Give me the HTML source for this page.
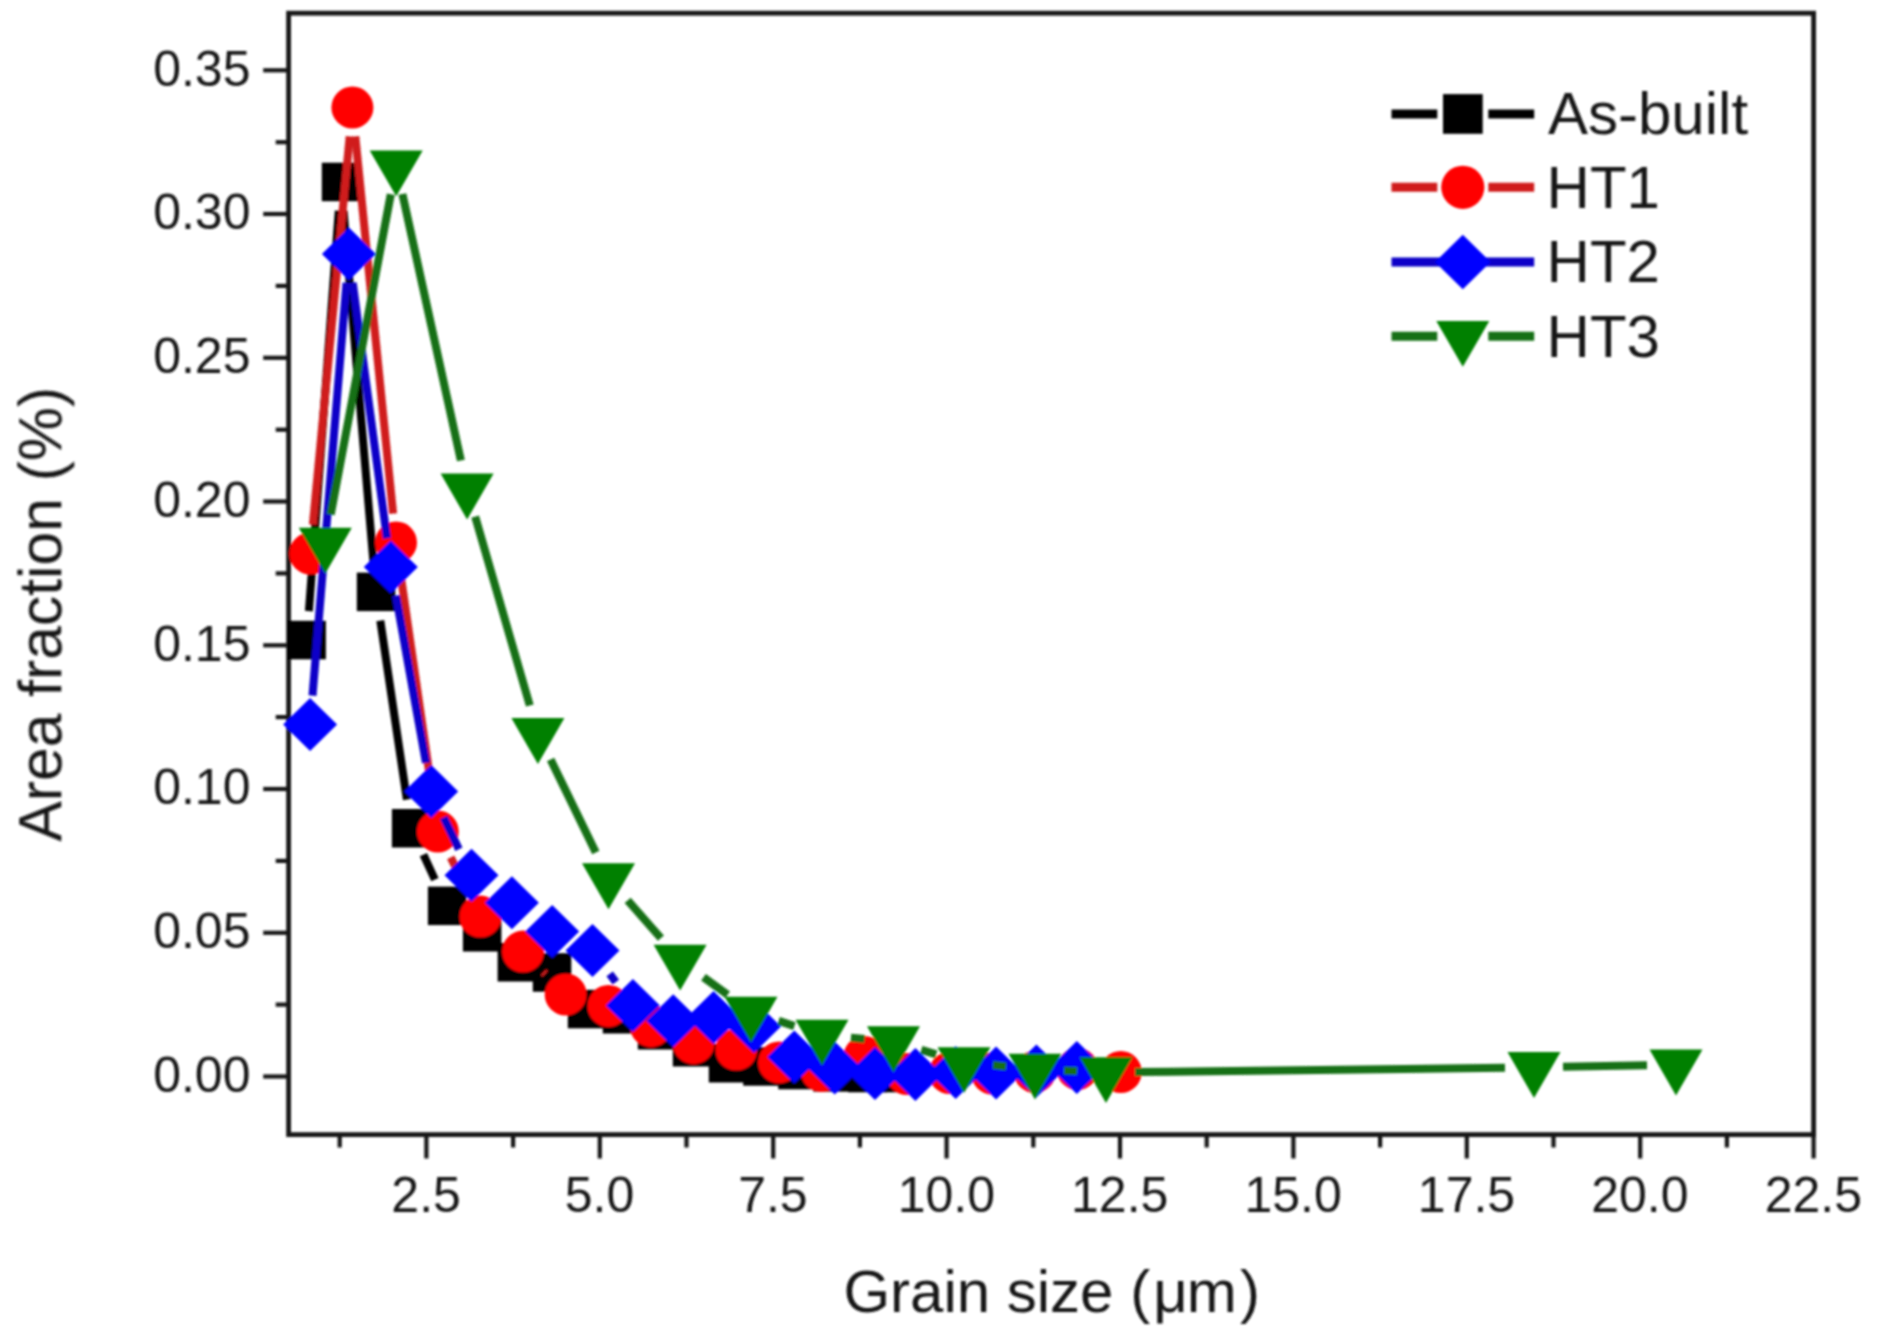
<!DOCTYPE html>
<html lang="en"><head><meta charset="utf-8"><title>Grain size distribution</title>
<style>
html,body{margin:0;padding:0;background:#fff;}
body{width:1877px;height:1341px;overflow:hidden;}
svg{display:block;}
</style></head><body>
<svg width="1877" height="1341" viewBox="0 0 1877 1341">
<rect width="1877" height="1341" fill="#ffffff"/>
<defs><filter id="soft" x="0" y="0" width="1877" height="1341" filterUnits="userSpaceOnUse"><feGaussianBlur stdDeviation="1.0"/></filter></defs>
<g filter="url(#soft)">
<rect x="288.6" y="13.2" width="1525.0" height="1121.3999999999999" fill="none" stroke="#161616" stroke-width="4.8"/>
<g stroke="#161616" stroke-width="4.2"><line x1="263.2" y1="1076.5" x2="288.6" y2="1076.5"/><line x1="263.2" y1="932.8" x2="288.6" y2="932.8"/><line x1="263.2" y1="789.0" x2="288.6" y2="789.0"/><line x1="263.2" y1="645.3" x2="288.6" y2="645.3"/><line x1="263.2" y1="501.5" x2="288.6" y2="501.5"/><line x1="263.2" y1="357.8" x2="288.6" y2="357.8"/><line x1="263.2" y1="214.0" x2="288.6" y2="214.0"/><line x1="263.2" y1="70.3" x2="288.6" y2="70.3"/><line x1="275.7" y1="1004.6" x2="288.6" y2="1004.6"/><line x1="275.7" y1="860.9" x2="288.6" y2="860.9"/><line x1="275.7" y1="717.1" x2="288.6" y2="717.1"/><line x1="275.7" y1="573.4" x2="288.6" y2="573.4"/><line x1="275.7" y1="429.7" x2="288.6" y2="429.7"/><line x1="275.7" y1="285.9" x2="288.6" y2="285.9"/><line x1="275.7" y1="142.2" x2="288.6" y2="142.2"/><line x1="426.4" y1="1134.6" x2="426.4" y2="1158.5"/><line x1="599.8" y1="1134.6" x2="599.8" y2="1158.5"/><line x1="773.2" y1="1134.6" x2="773.2" y2="1158.5"/><line x1="946.6" y1="1134.6" x2="946.6" y2="1158.5"/><line x1="1120.0" y1="1134.6" x2="1120.0" y2="1158.5"/><line x1="1293.4" y1="1134.6" x2="1293.4" y2="1158.5"/><line x1="1466.8" y1="1134.6" x2="1466.8" y2="1158.5"/><line x1="1640.2" y1="1134.6" x2="1640.2" y2="1158.5"/><line x1="1813.6" y1="1134.6" x2="1813.6" y2="1158.5"/><line x1="339.7" y1="1134.6" x2="339.7" y2="1147.5"/><line x1="513.1" y1="1134.6" x2="513.1" y2="1147.5"/><line x1="686.5" y1="1134.6" x2="686.5" y2="1147.5"/><line x1="859.9" y1="1134.6" x2="859.9" y2="1147.5"/><line x1="1033.3" y1="1134.6" x2="1033.3" y2="1147.5"/><line x1="1206.7" y1="1134.6" x2="1206.7" y2="1147.5"/><line x1="1380.1" y1="1134.6" x2="1380.1" y2="1147.5"/><line x1="1553.5" y1="1134.6" x2="1553.5" y2="1147.5"/><line x1="1726.9" y1="1134.6" x2="1726.9" y2="1147.5"/></g>
<g id="plot">
<g stroke="#000000" stroke-width="8.0" fill="none"><line x1="308.9" y1="611.1" x2="338.8" y2="210.8"/><line x1="343.5" y1="210.8" x2="373.5" y2="563.0"/><line x1="380.3" y1="620.6" x2="406.9" y2="799.6"/><line x1="423.4" y1="854.6" x2="434.9" y2="879.6"/></g>
<g><rect x="287.4" y="620.8" width="38.5" height="38.5" fill="#000000"/><rect x="321.8" y="162.7" width="38.5" height="38.5" fill="#000000"/><rect x="356.8" y="572.6" width="38.5" height="38.5" fill="#000000"/><rect x="391.9" y="809.0" width="38.5" height="38.5" fill="#000000"/><rect x="427.9" y="886.6" width="38.5" height="38.5" fill="#000000"/><rect x="462.9" y="913.0" width="38.5" height="38.5" fill="#000000"/><rect x="497.6" y="943.0" width="38.5" height="38.5" fill="#000000"/><rect x="532.8" y="953.2" width="38.5" height="38.5" fill="#000000"/><rect x="567.8" y="989.8" width="38.5" height="38.5" fill="#000000"/><rect x="602.8" y="995.0" width="38.5" height="38.5" fill="#000000"/><rect x="637.8" y="1011.0" width="38.5" height="38.5" fill="#000000"/><rect x="672.8" y="1028.0" width="38.5" height="38.5" fill="#000000"/><rect x="708.8" y="1044.0" width="38.5" height="38.5" fill="#000000"/><rect x="743.2" y="1047.2" width="38.5" height="38.5" fill="#000000"/><rect x="778.2" y="1050.8" width="38.5" height="38.5" fill="#000000"/><rect x="813.2" y="1053.2" width="38.5" height="38.5" fill="#000000"/><rect x="848.2" y="1053.8" width="38.5" height="38.5" fill="#000000"/><rect x="883.4" y="1053.8" width="38.5" height="38.5" fill="#000000"/></g>
<g stroke="#d01c1c" stroke-width="8.0" fill="none"><line x1="312.9" y1="524.6" x2="349.7" y2="136.4"/><line x1="355.3" y1="136.4" x2="393.1" y2="513.6"/><line x1="400.1" y1="571.2" x2="433.6" y2="802.8"/><line x1="450.7" y1="857.4" x2="467.4" y2="890.7"/><line x1="543.5" y1="972.2" x2="545.3" y2="973.9"/></g>
<g><circle cx="310.2" cy="553.5" r="21.0" fill="#ff0000"/><circle cx="352.4" cy="107.5" r="21.0" fill="#ff0000"/><circle cx="396.0" cy="542.5" r="21.0" fill="#ff0000"/><circle cx="437.8" cy="831.5" r="21.0" fill="#ff0000"/><circle cx="480.4" cy="916.6" r="21.0" fill="#ff0000"/><circle cx="523.0" cy="951.6" r="21.0" fill="#ff0000"/><circle cx="565.7" cy="994.5" r="21.0" fill="#ff0000"/><circle cx="608.4" cy="1006.0" r="21.0" fill="#ff0000"/><circle cx="651.0" cy="1026.2" r="21.0" fill="#ff0000"/><circle cx="693.6" cy="1043.2" r="21.0" fill="#ff0000"/><circle cx="736.3" cy="1049.6" r="21.0" fill="#ff0000"/><circle cx="779.0" cy="1062.4" r="21.0" fill="#ff0000"/><circle cx="821.6" cy="1070.9" r="21.0" fill="#ff0000"/><circle cx="864.2" cy="1057.0" r="21.0" fill="#ff0000"/><circle cx="906.9" cy="1074.0" r="21.0" fill="#ff0000"/><circle cx="949.5" cy="1073.0" r="21.0" fill="#ff0000"/><circle cx="992.2" cy="1073.5" r="21.0" fill="#ff0000"/><circle cx="1034.8" cy="1072.0" r="21.0" fill="#ff0000"/><circle cx="1077.5" cy="1069.0" r="21.0" fill="#ff0000"/><circle cx="1120.8" cy="1072.0" r="21.0" fill="#ff0000"/></g>
<g stroke="#0a00c8" stroke-width="8.0" fill="none"><line x1="312.5" y1="695.7" x2="346.5" y2="282.9"/><line x1="352.7" y1="282.7" x2="387.0" y2="538.4"/><line x1="395.9" y1="595.6" x2="426.0" y2="762.9"/><line x1="443.7" y1="817.5" x2="458.9" y2="849.2"/><line x1="609.7" y1="973.8" x2="615.8" y2="982.1"/></g>
<g><polygon points="283.1,724.6 310.1,698.1 337.1,724.6 310.1,751.1" fill="#0000ff"/><polygon points="321.9,254.0 348.9,227.5 375.9,254.0 348.9,280.5" fill="#0000ff"/><polygon points="363.8,567.1 390.8,540.6 417.8,567.1 390.8,593.6" fill="#0000ff"/><polygon points="404.2,791.4 431.2,764.9 458.2,791.4 431.2,817.9" fill="#0000ff"/><polygon points="444.5,875.3 471.5,848.8 498.5,875.3 471.5,901.8" fill="#0000ff"/><polygon points="484.9,902.8 511.9,876.3 538.9,902.8 511.9,929.3" fill="#0000ff"/><polygon points="525.2,931.6 552.2,905.1 579.2,931.6 552.2,958.1" fill="#0000ff"/><polygon points="565.5,950.4 592.5,923.9 619.5,950.4 592.5,976.9" fill="#0000ff"/><polygon points="605.9,1005.5 632.9,979.0 659.9,1005.5 632.9,1032.0" fill="#0000ff"/><polygon points="646.2,1020.8 673.2,994.3 700.2,1020.8 673.2,1047.3" fill="#0000ff"/><polygon points="686.6,1017.6 713.6,991.1 740.6,1017.6 713.6,1044.1" fill="#0000ff"/><polygon points="727.0,1026.4 754.0,999.9 781.0,1026.4 754.0,1052.9" fill="#0000ff"/><polygon points="767.3,1057.0 794.3,1030.5 821.3,1057.0 794.3,1083.5" fill="#0000ff"/><polygon points="807.7,1067.9 834.7,1041.4 861.7,1067.9 834.7,1094.4" fill="#0000ff"/><polygon points="848.0,1073.6 875.0,1047.1 902.0,1073.6 875.0,1100.1" fill="#0000ff"/><polygon points="888.4,1074.6 915.4,1048.1 942.4,1074.6 915.4,1101.1" fill="#0000ff"/><polygon points="928.7,1072.5 955.7,1046.0 982.7,1072.5 955.7,1099.0" fill="#0000ff"/><polygon points="969.1,1073.0 996.1,1046.5 1023.1,1073.0 996.1,1099.5" fill="#0000ff"/><polygon points="1009.4,1071.0 1036.4,1044.5 1063.4,1071.0 1036.4,1097.5" fill="#0000ff"/><polygon points="1049.8,1067.6 1076.8,1041.1 1103.8,1067.6 1076.8,1094.1" fill="#0000ff"/></g>
<g stroke="#147014" stroke-width="8.0" fill="none"><line x1="330.7" y1="514.5" x2="390.8" y2="194.2"/><line x1="402.4" y1="194.0" x2="460.9" y2="460.5"/><line x1="475.2" y1="516.7" x2="529.8" y2="705.5"/><line x1="550.6" y1="759.5" x2="595.8" y2="852.5"/><line x1="627.7" y1="900.4" x2="660.9" y2="938.2"/><line x1="703.5" y1="977.2" x2="727.6" y2="994.8"/><line x1="778.6" y1="1020.9" x2="794.4" y2="1026.1"/><line x1="850.9" y1="1037.7" x2="864.6" y2="1038.9"/><line x1="921.3" y1="1049.8" x2="936.2" y2="1054.3"/><line x1="992.9" y1="1065.1" x2="1006.1" y2="1066.4"/><line x1="1064.0" y1="1070.4" x2="1077.0" y2="1071.1"/><line x1="1135.0" y1="1072.1" x2="1505.0" y2="1067.7"/><line x1="1563.0" y1="1066.8" x2="1647.0" y2="1065.3"/></g>
<g><polygon points="298.8,527.7 351.8,527.7 325.3,573.6" fill="#008000"/><polygon points="369.7,150.4 422.7,150.4 396.2,196.3" fill="#008000"/><polygon points="440.6,473.5 493.6,473.5 467.1,519.4" fill="#008000"/><polygon points="511.4,718.1 564.4,718.1 537.9,764.0" fill="#008000"/><polygon points="582.0,863.3 635.0,863.3 608.5,909.2" fill="#008000"/><polygon points="653.6,944.7 706.6,944.7 680.1,990.6" fill="#008000"/><polygon points="724.5,996.7 777.5,996.7 751.0,1042.6" fill="#008000"/><polygon points="795.5,1019.7 848.5,1019.7 822.0,1065.6" fill="#008000"/><polygon points="867.0,1026.3 920.0,1026.3 893.5,1072.2" fill="#008000"/><polygon points="937.5,1047.2 990.5,1047.2 964.0,1093.1" fill="#008000"/><polygon points="1008.5,1053.7 1061.5,1053.7 1035.0,1099.6" fill="#008000"/><polygon points="1079.5,1057.2 1132.5,1057.2 1106.0,1103.1" fill="#008000"/><polygon points="1507.5,1052.0 1560.5,1052.0 1534.0,1097.9" fill="#008000"/><polygon points="1649.5,1049.5 1702.5,1049.5 1676.0,1095.4" fill="#008000"/></g>
</g>
<g font-family="Liberation Sans, Arial, Helvetica, sans-serif" font-size="50" fill="#161616">
<text x="250.5" y="1091.8" text-anchor="end">0.00</text>
<text x="250.5" y="948.1" text-anchor="end">0.05</text>
<text x="250.5" y="804.3" text-anchor="end">0.10</text>
<text x="250.5" y="660.6" text-anchor="end">0.15</text>
<text x="250.5" y="516.8" text-anchor="end">0.20</text>
<text x="250.5" y="373.1" text-anchor="end">0.25</text>
<text x="250.5" y="229.3" text-anchor="end">0.30</text>
<text x="250.5" y="85.6" text-anchor="end">0.35</text>
<text x="426.1" y="1211.5" text-anchor="middle">2.5</text>
<text x="599.5" y="1211.5" text-anchor="middle">5.0</text>
<text x="772.9" y="1211.5" text-anchor="middle">7.5</text>
<text x="946.3" y="1211.5" text-anchor="middle">10.0</text>
<text x="1119.7" y="1211.5" text-anchor="middle">12.5</text>
<text x="1293.1" y="1211.5" text-anchor="middle">15.0</text>
<text x="1466.5" y="1211.5" text-anchor="middle">17.5</text>
<text x="1639.9" y="1211.5" text-anchor="middle">20.0</text>
<text x="1813.3" y="1211.5" text-anchor="middle">22.5</text>
</g>
<g font-family="Liberation Sans, Arial, Helvetica, sans-serif" font-size="60" fill="#161616">
<text transform="translate(61.3,614.3) rotate(-90)" text-anchor="middle" font-size="60.6">Area fraction (%)</text>
<text x="843.4" y="1312.2">Grain size (<tspan dx="3">μ</tspan><tspan dx="-0.9">m</tspan><tspan dx="3.1">)</tspan></text>
</g>
<g stroke="#000000" stroke-width="9.0"><line x1="1391.5" y1="113.9" x2="1437.3" y2="113.9"/><line x1="1488.3" y1="113.9" x2="1534.2" y2="113.9"/></g>
<rect x="1443.0" y="94.1" width="39.7" height="39.7" fill="#000000"/>
<text x="1548" y="134.3" font-family="Liberation Sans, Arial, Helvetica, sans-serif" font-size="60" fill="#161616">As-built</text>
<g stroke="#d01c1c" stroke-width="9.0"><line x1="1391.5" y1="187.3" x2="1437.3" y2="187.3"/><line x1="1488.3" y1="187.3" x2="1534.2" y2="187.3"/></g>
<circle cx="1462.8" cy="187.3" r="21.6" fill="#ff0000"/>
<text x="1546.6" y="207.7" font-family="Liberation Sans, Arial, Helvetica, sans-serif" font-size="60" fill="#161616">HT1</text>
<line x1="1391.5" y1="262.0" x2="1534.2" y2="262.0" stroke="#0a00c8" stroke-width="9.0"/>
<polygon points="1435.0,262.0 1462.8,234.7 1490.6,262.0 1462.8,289.3" fill="#0000ff"/>
<text x="1546.6" y="282.4" font-family="Liberation Sans, Arial, Helvetica, sans-serif" font-size="60" fill="#161616">HT2</text>
<g stroke="#147014" stroke-width="9.0"><line x1="1391.5" y1="336.2" x2="1437.3" y2="336.2"/><line x1="1488.3" y1="336.2" x2="1534.2" y2="336.2"/></g>
<polygon points="1436.3,320.9 1489.3,320.9 1462.8,366.8" fill="#008000"/>
<text x="1546.6" y="356.6" font-family="Liberation Sans, Arial, Helvetica, sans-serif" font-size="60" fill="#161616">HT3</text>
</g>
</svg>
</body></html>
